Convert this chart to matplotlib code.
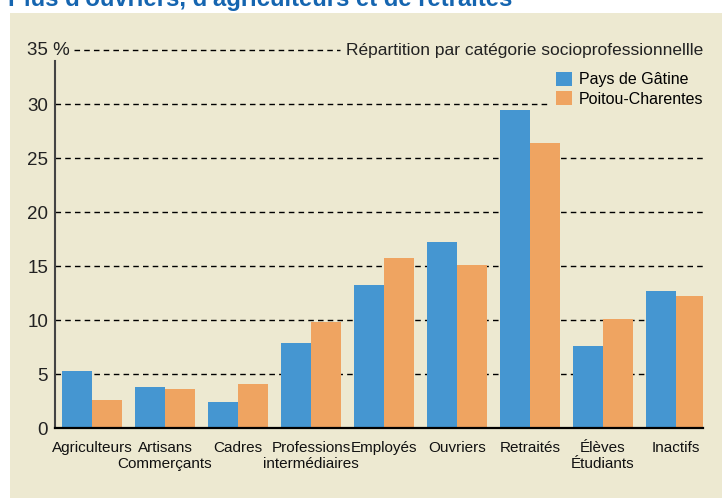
import matplotlib.pyplot as plt
from matplotlib.patches import Rectangle
import numpy as np

categories = ['Agriculteurs', 'Artisans', 'Cadres', 'Professions',
              'Employés', 'Ouvriers', 'Retraités', 'Élèves', 'Inactifs']
second_lines = ['', 'Commerçants', '', 'intermédiaires', '', '', '', 'Étudiants', '']
gatine = [5.3, 3.8, 2.4, 7.9, 13.2, 17.2, 29.4, 7.6, 12.7]
poitou = [2.6, 3.6, 4.1, 9.8, 15.7, 15.1, 26.4, 10.1, 12.2]
yticks = [0, 5, 10, 15, 20, 25, 30]

plt.rcParams['font.family'] = ['Liberation Sans Narrow', 'Liberation Sans', 'DejaVu Sans']
bg = '#ede9d1'
blue = '#4596d1'
orange = '#efa461'

fig = plt.figure(figsize=(7.22, 4.98), dpi=100)
fig.patch.set_facecolor('white')
# beige panel behind everything
panel = Rectangle((10 / 722, 0), 1, 1 - 13 / 498, transform=fig.transFigure,
                  facecolor=bg, edgecolor='none', zorder=-10)
fig.add_artist(panel)
# title, cut at the top edge as in the source
fig.text(8 / 722, 1 - 6 / 498, "Plus d'ouvriers, d'agriculteurs et de retraités",
         color='#1565b0', fontsize=17.2, fontweight='bold', family=['Liberation Sans', 'DejaVu Sans'],
         va='baseline', ha='left')

ax = fig.add_axes([55 / 722, 70 / 498, 648 / 722, 378 / 498])
ax.set_zorder(1)
ax.set_facecolor(bg)

x = np.arange(len(categories))
w = 0.41
ax.bar(x - w / 2, gatine, w, color=blue, label='Pays de Gâtine', zorder=3)
ax.bar(x + w / 2, poitou, w, color=orange, label='Poitou-Charentes', zorder=3)

ax.set_xlim(-0.507, 8.37)
ax.set_ylim(0, 35)

# dashed grid
for t in yticks[1:]:
    ax.axhline(t, color='black', linestyle=(0, (4, 3)), linewidth=1, zorder=1)
ax.plot([-0.25, 3.4], [35, 35], color='black', linestyle=(0, (4, 3)), linewidth=1,
        clip_on=False, zorder=1)
ax.text(8.37, 35, 'Répartition par catégorie socioprofessionnellle', ha='right', va='center',
        fontsize=12.5, color='#222222')
ax.text(-0.3, 35, '35 %', ha='right', va='center', fontsize=13.5, color='#222222')

ax.set_yticks(yticks)
ax.set_yticklabels([str(t) for t in yticks], fontsize=13.5, color='#222222')
ax.set_xticks(x)
ax.set_xticklabels(categories, fontsize=11, color='#111111')
ax.tick_params(axis='both', length=0)
ax.tick_params(axis='y', pad=5)
ax.tick_params(axis='x', pad=9)

# second line of two-line category labels
for xi, lab in zip(x, second_lines):
    if lab:
        ax.text(xi, -29 / 378, lab, transform=ax.get_xaxis_transform(), ha='center', va='top',
                fontsize=11, color='#111111')

for s in ['top', 'right']:
    ax.spines[s].set_visible(False)
ax.spines['left'].set_bounds(0, 34)
ax.spines['left'].set_color('#444444')
ax.spines['left'].set_linewidth(1.5)
ax.spines['bottom'].set_color('black')
ax.spines['bottom'].set_linewidth(1.6)
ax.spines['bottom'].set_zorder(4)

leg = ax.legend(loc='upper right', bbox_to_anchor=(1.01, 0.96), fontsize=11.5, frameon=True,
                facecolor=bg, edgecolor='none', framealpha=1, handlelength=1.0,
                handleheight=1.0, handletextpad=0.4, labelspacing=0.25, borderaxespad=0)
leg.set_zorder(5)

fig.savefig('out.png', dpi=100, facecolor=fig.get_facecolor())
